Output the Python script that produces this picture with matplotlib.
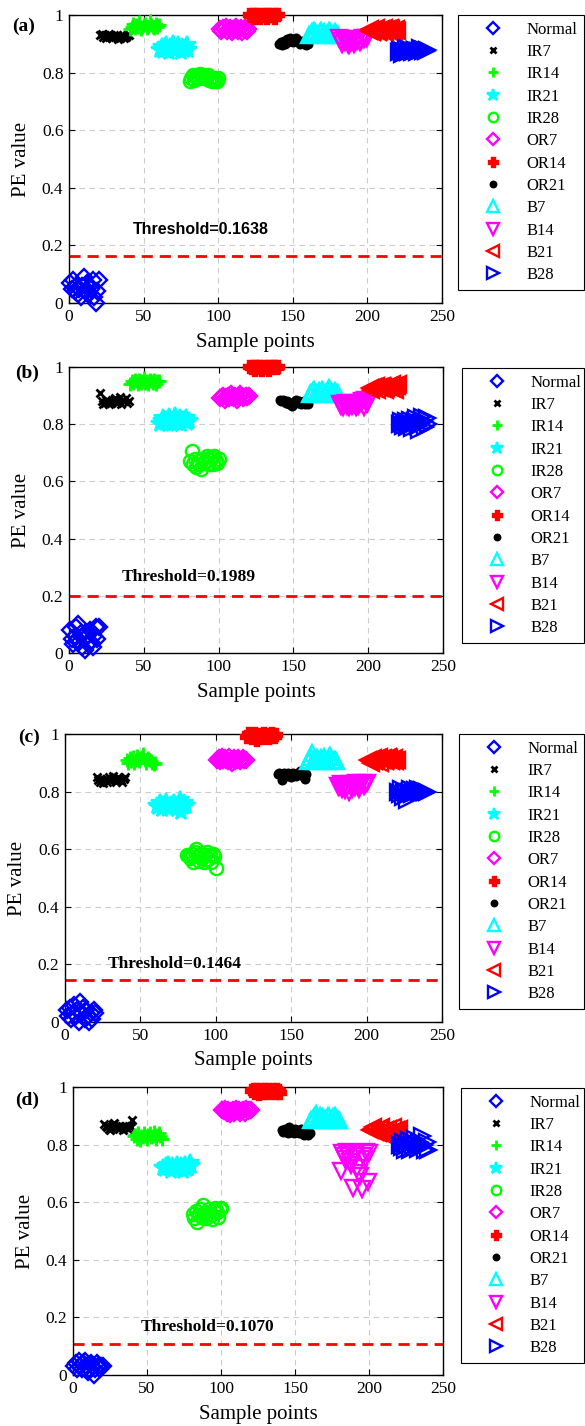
import numpy as np
import matplotlib
matplotlib.use("Agg")
import matplotlib.pyplot as plt

plt.rcParams["font.family"] = ["Liberation Serif", "DejaVu Serif"]

# Klassen und Darstellung
classes = ["Normal", "IR7", "IR14", "IR21", "IR28", "OR7", "OR14", "OR21", "B7", "B14", "B21", "B28"]
markers = ["D", "x", "+", "*", "o", "D", "P", "o", "^", "v", "<", ">"]
colors = ["#0000ff", "k", "#00ff00", "#00ffff", "#00ff00", "#ff00ff", "#ff0000", "k",
          "#00ffff", "#ff00ff", "#ff0000", "#0000ff"]
msizes = [8, 6, 10, 13, 9.5, 8, 9, 5.5, 12, 12, 12, 12]
hollow = [True, False, False, False, True, True, False, False, True, True, True, True]

thresholds = [0.1638, 0.1989, 0.1464, 0.1070]
panel_tags = ["(a)", "(b)", "(c)", "(d)"]

# (a)
a_normal = [0.07, 0.05, 0.08, 0.04, 0.06, 0.03, 0.05, 0.02, 0.06, 0.09, 0.04, 0.07, 0.03, 0.06, 0.05, 0.08, 0.02, 0.00, 0.04, 0.08]
a_ir7 = [0.93, 0.935, 0.925, 0.93, 0.92, 0.93, 0.935, 0.925, 0.92, 0.93, 0.925, 0.93, 0.915, 0.92, 0.925, 0.93, 0.92, 0.925, 0.93, 0.93]
a_ir14 = [0.95, 0.96, 0.97, 0.955, 0.965, 0.96, 0.975, 0.95, 0.96, 0.965, 0.97, 0.955, 0.96, 0.98, 0.965, 0.96, 0.955, 0.97, 0.96, 0.965]
a_ir21 = [0.88, 0.89, 0.875, 0.885, 0.895, 0.88, 0.87, 0.89, 0.885, 0.9, 0.875, 0.88, 0.895, 0.885, 0.87, 0.89, 0.88, 0.885, 0.895, 0.88]
a_ir28 = [0.77, 0.78, 0.79, 0.775, 0.785, 0.79, 0.78, 0.795, 0.785, 0.79, 0.78, 0.785, 0.79, 0.775, 0.78, 0.77, 0.775, 0.78, 0.77, 0.78]
a_or7 = [0.95, 0.945, 0.955, 0.95, 0.96, 0.945, 0.95, 0.955, 0.94, 0.95, 0.955, 0.96, 0.945, 0.95, 0.955, 0.94, 0.95, 0.955, 0.945, 0.95]
a_or14 = [1.0, 0.995, 1.0, 0.99, 1.0, 0.995, 1.0, 0.99, 0.995, 1.0, 0.995, 1.0, 0.99, 1.0, 0.995, 1.0, 0.995, 0.99, 1.0, 1.0]
a_or21 = [0.90, 0.905, 0.895, 0.91, 0.9, 0.915, 0.905, 0.92, 0.91, 0.905, 0.915, 0.92, 0.91, 0.905, 0.9, 0.91, 0.905, 0.9, 0.895, 0.9]
a_b7 = [0.93, 0.935, 0.94, 0.945, 0.94, 0.935, 0.93, 0.94, 0.945, 0.935, 0.94, 0.93, 0.935, 0.945, 0.94, 0.935, 0.93, 0.94, 0.935, 0.93]
a_b14 = [0.92, 0.91, 0.9, 0.915, 0.905, 0.91, 0.9, 0.895, 0.905, 0.91, 0.9, 0.905, 0.91, 0.915, 0.905, 0.91, 0.92, 0.915, 0.92, 0.92]
a_b21 = [0.945, 0.95, 0.94, 0.945, 0.95, 0.955, 0.94, 0.945, 0.95, 0.945, 0.955, 0.94, 0.95, 0.945, 0.955, 0.95, 0.94, 0.945, 0.95, 0.945]
a_b28 = [0.87, 0.88, 0.865, 0.875, 0.87, 0.885, 0.87, 0.875, 0.88, 0.87, 0.875, 0.88, 0.87, 0.875, 0.885, 0.88, 0.875, 0.88, 0.875, 0.88]

# (b)
b_normal = [0.08, 0.05, 0.03, 0.06, 0.09, 0.10, 0.04, 0.07, 0.02, 0.05, 0.01, 0.06, 0.03, 0.08, 0.04, 0.02, 0.06, 0.09, 0.05, 0.09]
b_ir7 = [0.91, 0.88, 0.87, 0.875, 0.885, 0.88, 0.87, 0.875, 0.88, 0.885, 0.89, 0.875, 0.88, 0.895, 0.87, 0.885, 0.88, 0.89, 0.875, 0.88]
b_ir14 = [0.94, 0.95, 0.945, 0.955, 0.95, 0.94, 0.955, 0.945, 0.95, 0.96, 0.945, 0.95, 0.94, 0.955, 0.95, 0.945, 0.955, 0.94, 0.95, 0.95]
b_ir21 = [0.80, 0.81, 0.82, 0.805, 0.815, 0.80, 0.825, 0.81, 0.80, 0.815, 0.83, 0.805, 0.81, 0.82, 0.80, 0.815, 0.81, 0.82, 0.805, 0.81]
b_ir28 = [0.67, 0.705, 0.66, 0.68, 0.65, 0.67, 0.66, 0.645, 0.68, 0.665, 0.67, 0.69, 0.66, 0.675, 0.685, 0.66, 0.69, 0.67, 0.665, 0.68]
b_or7 = [0.89, 0.895, 0.9, 0.885, 0.895, 0.9, 0.89, 0.905, 0.895, 0.89, 0.9, 0.885, 0.895, 0.905, 0.9, 0.89, 0.895, 0.9, 0.895, 0.9]
b_or14 = [1.0, 0.995, 1.0, 0.99, 1.0, 0.995, 1.0, 1.0, 0.99, 0.995, 1.0, 0.995, 1.0, 0.99, 1.0, 0.995, 1.0, 1.0, 0.995, 1.0]
b_or21 = [0.885, 0.88, 0.885, 0.88, 0.875, 0.88, 0.87, 0.875, 0.865, 0.87, 0.88, 0.885, 0.875, 0.88, 0.87, 0.875, 0.88, 0.87, 0.875, 0.87]
b_b7 = [0.905, 0.91, 0.915, 0.92, 0.91, 0.905, 0.915, 0.91, 0.92, 0.915, 0.905, 0.91, 0.92, 0.925, 0.915, 0.91, 0.905, 0.915, 0.91, 0.905]
b_b14 = [0.87, 0.865, 0.86, 0.87, 0.875, 0.865, 0.86, 0.87, 0.865, 0.875, 0.87, 0.86, 0.865, 0.87, 0.875, 0.88, 0.86, 0.885, 0.87, 0.88]
b_b21 = [0.925, 0.92, 0.93, 0.925, 0.935, 0.92, 0.93, 0.925, 0.935, 0.93, 0.92, 0.925, 0.935, 0.93, 0.925, 0.94, 0.93, 0.92, 0.935, 0.94]
b_b28 = [0.80, 0.81, 0.795, 0.805, 0.81, 0.79, 0.8, 0.815, 0.785, 0.8, 0.81, 0.82, 0.795, 0.78, 0.805, 0.825, 0.81, 0.79, 0.82, 0.8]

# (c)
c_normal = [0.04, 0.02, 0.05, 0.01, 0.03, 0.06, 0.02, 0.04, 0.00, 0.07, 0.03, 0.05, 0.01, 0.04, 0.02, 0.00, 0.03, 0.01, 0.04, 0.03]
c_ir7 = [0.85, 0.84, 0.835, 0.845, 0.83, 0.84, 0.845, 0.835, 0.85, 0.84, 0.845, 0.855, 0.84, 0.835, 0.85, 0.845, 0.84, 0.835, 0.845, 0.85]
c_ir14 = [0.91, 0.9, 0.915, 0.905, 0.92, 0.9, 0.91, 0.925, 0.905, 0.915, 0.92, 0.93, 0.91, 0.9, 0.915, 0.91, 0.905, 0.9, 0.895, 0.9]
c_ir21 = [0.75, 0.745, 0.76, 0.74, 0.755, 0.75, 0.765, 0.74, 0.75, 0.755, 0.745, 0.76, 0.75, 0.74, 0.755, 0.77, 0.73, 0.745, 0.76, 0.75]
c_ir28 = [0.58, 0.575, 0.57, 0.585, 0.555, 0.59, 0.6, 0.575, 0.56, 0.585, 0.57, 0.555, 0.58, 0.59, 0.565, 0.58, 0.555, 0.585, 0.575, 0.535]
c_or7 = [0.91, 0.915, 0.905, 0.92, 0.91, 0.915, 0.91, 0.905, 0.92, 0.91, 0.9, 0.915, 0.905, 0.91, 0.915, 0.905, 0.91, 0.915, 0.91, 0.91]
c_or14 = [0.99, 1.0, 0.995, 0.985, 0.99, 1.0, 0.98, 0.99, 0.995, 0.99, 0.985, 1.0, 0.99, 0.995, 0.985, 0.99, 1.0, 0.995, 0.99, 0.995]
c_or21 = [0.86, 0.865, 0.86, 0.84, 0.865, 0.86, 0.855, 0.865, 0.86, 0.85, 0.865, 0.86, 0.855, 0.86, 0.865, 0.87, 0.86, 0.855, 0.845, 0.86]
c_b7 = [0.905, 0.91, 0.92, 0.935, 0.91, 0.905, 0.915, 0.91, 0.905, 0.915, 0.91, 0.92, 0.905, 0.91, 0.92, 0.925, 0.91, 0.905, 0.91, 0.905]
c_b14 = [0.82, 0.815, 0.825, 0.81, 0.82, 0.805, 0.815, 0.8, 0.825, 0.81, 0.82, 0.815, 0.83, 0.82, 0.81, 0.825, 0.83, 0.82, 0.825, 0.83]
c_b21 = [0.91, 0.905, 0.9, 0.915, 0.905, 0.91, 0.915, 0.92, 0.9, 0.91, 0.915, 0.905, 0.91, 0.92, 0.915, 0.905, 0.91, 0.915, 0.905, 0.91]
c_b28 = [0.80, 0.79, 0.81, 0.78, 0.8, 0.795, 0.77, 0.8, 0.81, 0.79, 0.8, 0.805, 0.8, 0.81, 0.795, 0.8, 0.805, 0.8, 0.8, 0.8]

# (d)
d_normal = [0.03, 0.04, 0.02, 0.05, 0.03, 0.02, 0.04, 0.05, 0.03, 0.01, 0.02, 0.04, 0.03, 0.00, 0.02, 0.04, 0.03, 0.02, 0.03, 0.03]
d_ir7 = [0.87, 0.865, 0.86, 0.855, 0.85, 0.86, 0.87, 0.875, 0.865, 0.86, 0.855, 0.865, 0.86, 0.85, 0.865, 0.86, 0.855, 0.865, 0.86, 0.885]
d_ir14 = [0.83, 0.835, 0.82, 0.84, 0.815, 0.83, 0.825, 0.84, 0.83, 0.82, 0.835, 0.84, 0.825, 0.83, 0.845, 0.82, 0.835, 0.84, 0.83, 0.82]
d_ir21 = [0.72, 0.715, 0.725, 0.73, 0.72, 0.71, 0.725, 0.715, 0.72, 0.73, 0.715, 0.72, 0.725, 0.71, 0.72, 0.73, 0.715, 0.72, 0.735, 0.725]
d_ir28 = [0.56, 0.545, 0.57, 0.53, 0.555, 0.575, 0.55, 0.59, 0.565, 0.545, 0.56, 0.575, 0.555, 0.54, 0.57, 0.58, 0.565, 0.55, 0.575, 0.58]
d_or7 = [0.92, 0.915, 0.925, 0.91, 0.92, 0.905, 0.915, 0.92, 0.91, 0.925, 0.915, 0.92, 0.91, 0.915, 0.92, 0.91, 0.925, 0.915, 0.92, 0.92]
d_or14 = [0.985, 0.99, 0.98, 0.99, 0.985, 0.975, 0.99, 0.985, 0.98, 0.99, 0.985, 0.99, 0.98, 0.985, 0.99, 0.985, 0.98, 0.99, 0.985, 0.98]
d_or21 = [0.85, 0.845, 0.855, 0.85, 0.84, 0.86, 0.85, 0.845, 0.84, 0.855, 0.85, 0.845, 0.84, 0.855, 0.85, 0.835, 0.84, 0.845, 0.835, 0.84]
d_b7 = [0.885, 0.89, 0.895, 0.905, 0.89, 0.885, 0.9, 0.89, 0.895, 0.885, 0.89, 0.9, 0.895, 0.885, 0.89, 0.895, 0.9, 0.89, 0.885, 0.885]
d_b14 = [0.71, 0.77, 0.76, 0.75, 0.775, 0.765, 0.74, 0.73, 0.65, 0.76, 0.77, 0.72, 0.70, 0.69, 0.645, 0.76, 0.75, 0.775, 0.67, 0.77]
d_b21 = [0.85, 0.855, 0.86, 0.845, 0.85, 0.84, 0.855, 0.86, 0.845, 0.835, 0.85, 0.84, 0.855, 0.83, 0.845, 0.86, 0.84, 0.85, 0.845, 0.855]
d_b28 = [0.80, 0.79, 0.81, 0.78, 0.795, 0.8, 0.815, 0.78, 0.805, 0.79, 0.82, 0.8, 0.785, 0.81, 0.795, 0.83, 0.8, 0.78, 0.81, 0.78]

panels = [
    [a_normal, a_ir7, a_ir14, a_ir21, a_ir28, a_or7, a_or14, a_or21, a_b7, a_b14, a_b21, a_b28],
    [b_normal, b_ir7, b_ir14, b_ir21, b_ir28, b_or7, b_or14, b_or21, b_b7, b_b14, b_b21, b_b28],
    [c_normal, c_ir7, c_ir14, c_ir21, c_ir28, c_or7, c_or14, c_or21, c_b7, c_b14, c_b21, c_b28],
    [d_normal, d_ir7, d_ir14, d_ir21, d_ir28, d_or7, d_or14, d_or21, d_b7, d_b14, d_b21, d_b28],
]

# Layout in Pixeln (links, oben, breite, hoehe)
W, H = 585, 1426
ax_px = [(69, 15, 373, 288), (69, 367, 374, 286), (65, 734, 377, 288), (73, 1087, 370, 288)]
leg_px = [(458, 15, 126, 287), (462, 368, 122, 284), (459, 734, 125, 289), (461, 1088, 123, 287)]
tag_px = [(12, 26), (15, 373), (18, 737), (15, 1100)]
thr_txt = [(43, 0.254), (35, 0.266), (28, 0.202), (46, 0.165)]
thr_font = [["Liberation Sans", "DejaVu Sans"], ["Liberation Serif"], ["Liberation Serif"], ["Liberation Serif"]]

fig = plt.figure(figsize=(W / 100, H / 100), dpi=100)

for p, data in enumerate(panels):
    l, t, w, h = ax_px[p]
    ax = fig.add_axes([l / W, 1 - (t + h) / H, w / W, h / H])
    handles = []
    for k, vals in enumerate(data):
        x = np.arange(20 * k + 1, 20 * k + 1 + len(vals))
        ln, = ax.plot(x, vals, linestyle="none", marker=markers[k], color=colors[k],
                      markersize=msizes[k], markeredgewidth=2 if markers[k] in "x+" else 1.7,
                      markerfacecolor="none" if hollow[k] else colors[k],
                      clip_on=False, zorder=3, label=classes[k])
        handles.append(ln)

    ax.axhline(thresholds[p], color="#ff0000", linestyle=(0, (4, 2.5)), linewidth=2, zorder=2)
    tx, ty = thr_txt[p]
    ax.text(tx, ty, "Threshold=%.4f" % thresholds[p], fontsize=12.5 if p else 11.5,
            fontweight="bold", family=thr_font[p], ha="left", va="center")

    ax.set_xlim(0, 250)
    ax.set_ylim(0, 1)
    ax.set_xticks([0, 50, 100, 150, 200, 250])
    ax.set_yticks([0, 0.2, 0.4, 0.6, 0.8, 1])
    ax.set_yticklabels(["0", "0.2", "0.4", "0.6", "0.8", "1"])
    ax.tick_params(direction="in", top=True, right=True, labelsize=12.5, length=4, width=0.8, pad=4)
    ax.grid(True, color="#cccccc", linestyle=(0, (5, 4)), linewidth=0.8)
    ax.set_axisbelow(True)
    for s in ax.spines.values():
        s.set_linewidth(1)

    ax.set_xlabel("Sample points", fontsize=15, va="center")
    ax.xaxis.set_label_coords(0.5, -39 / h)
    ax.set_ylabel("PE value", fontsize=15, va="center")
    ax.yaxis.set_label_coords(-47 / w, 0.5)

    fig.text(tag_px[p][0] / W, 1 - tag_px[p][1] / H, panel_tags[p], fontsize=14,
             fontweight="bold", ha="left", va="center")

    ll, lt, lw, lh = leg_px[p]
    leg = fig.legend(handles=handles, loc="upper left",
                     bbox_to_anchor=(ll / W, 1 - lt / H, lw / W, 0.0001), mode="expand",
                     borderaxespad=0, fontsize=12, numpoints=1, fancybox=False,
                     edgecolor="k", framealpha=1, borderpad=0.4, labelspacing=0.38,
                     handlelength=3.4, handletextpad=0.3, markerscale=0.72)
    leg.get_frame().set_linewidth(0.8)

fig.savefig("out.png", dpi=100)
